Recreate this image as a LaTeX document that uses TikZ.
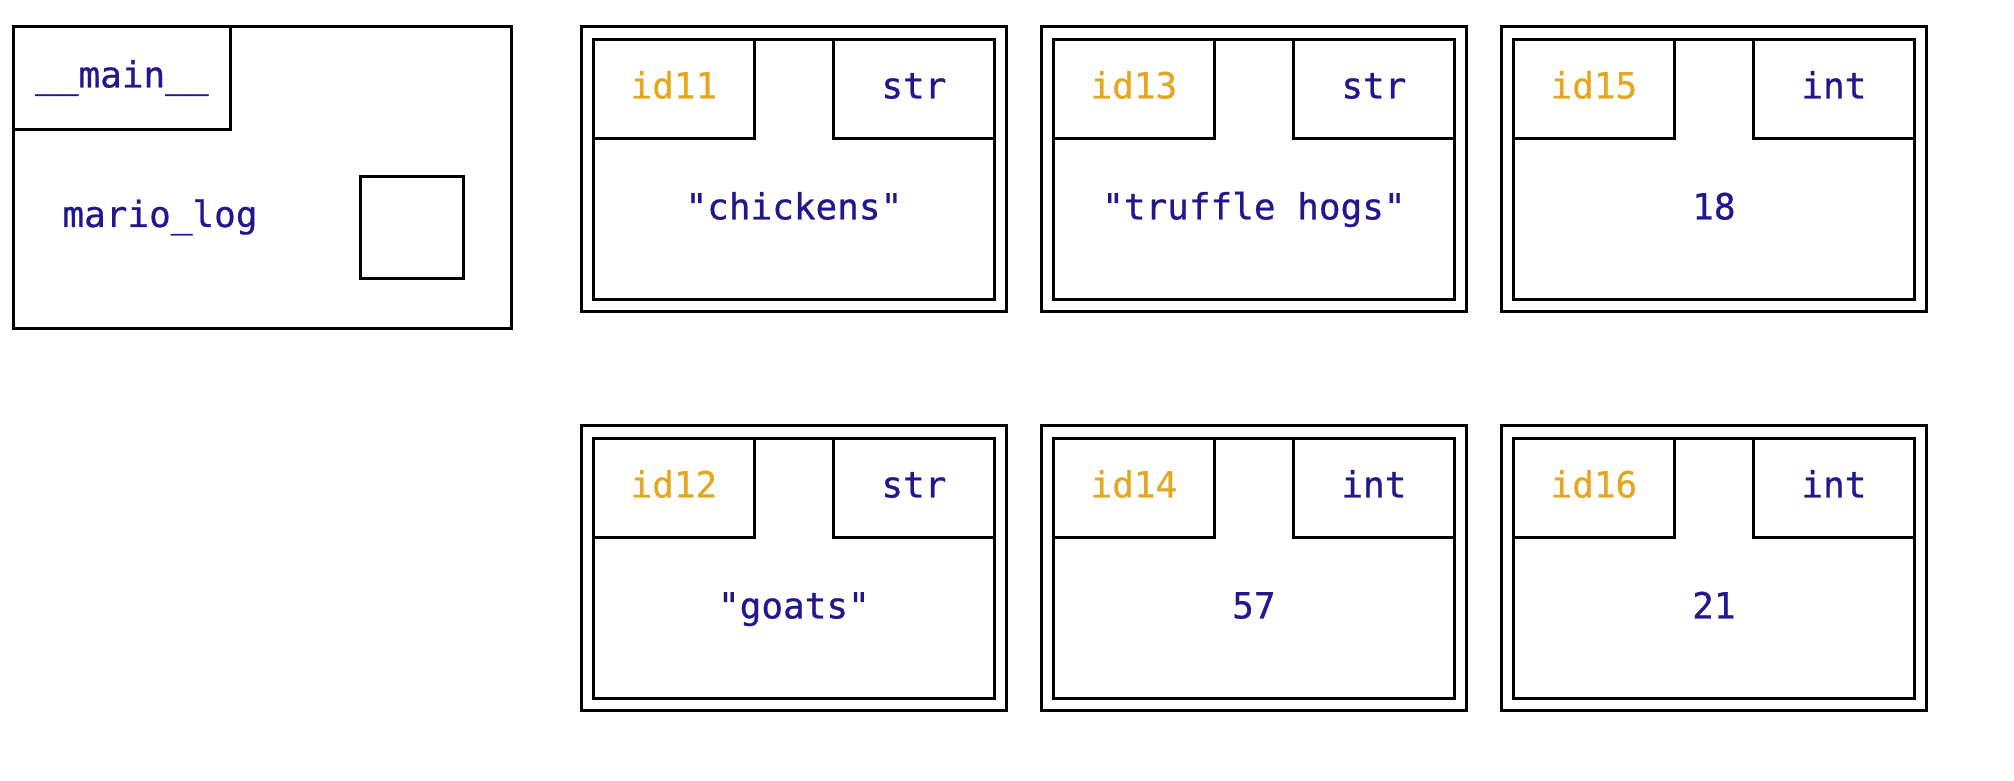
\documentclass[tikz,border=0pt]{standalone}
\usepackage{fontspec}
\newfontfamily\codefont{DejaVu Sans Mono}[FakeBold=0.7]
\usetikzlibrary{positioning}
\definecolor{namecol}{RGB}{32,24,140}
\definecolor{idcol}{RGB}{228,168,32}

\begin{document}
\begin{tikzpicture}[x=0.5pt, y=-0.5pt,
	every node/.style={font=\codefont\fontsize{18}{20}\selectfont, text=namecol,
		inner sep=0pt, text height=13pt, text depth=3.5pt},
	frame/.style={draw, line width=1.4pt, anchor=north west},
	objbox/.style={frame, minimum width=212.5pt, minimum height=142.5pt},
	innerbox/.style={draw, line width=1.4pt, minimum width=200.5pt, minimum height=130pt},
	tagbox/.style={draw, line width=1.4pt, minimum width=80.5pt, minimum height=49.5pt},
	idbox/.style={tagbox, anchor=north west, text=idcol},
	typebox/.style={tagbox, anchor=north east}]
	\useasboundingbox (0,0) rectangle (2014,781);
	% __main__ frame
	\node[frame, minimum width=249pt, minimum height=151pt] (main) at (12,25) {};
	\node[frame, minimum width=108.5pt, minimum height=51.5pt] (mainlbl) at (main.north west) {\_\_main\_\_};
	\node (var) at (160,217.5) {mario\_log};
	\node[frame, minimum width=51.5pt, minimum height=51pt] (ref) at (359,175) {};
	% objects, top row
	\node[objbox] (o11) at (580,25) {};
	\node[innerbox, below right=6.5pt and 6pt of o11.north west] (in11) {};
	\node[idbox] (id11) at (in11.north west) {id11};
	\node[typebox] (t11) at (in11.north east) {str};
	\node (v11) at ([yshift=-20.25pt]in11.center) {"chickens"};
	\node[objbox] (o13) at (1040,25) {};
	\node[innerbox, below right=6.5pt and 6pt of o13.north west] (in13) {};
	\node[idbox] (id13) at (in13.north west) {id13};
	\node[typebox] (t13) at (in13.north east) {str};
	\node (v13) at ([yshift=-20.25pt]in13.center) {"truffle hogs"};
	\node[objbox] (o15) at (1500,25) {};
	\node[innerbox, below right=6.5pt and 6pt of o15.north west] (in15) {};
	\node[idbox] (id15) at (in15.north west) {id15};
	\node[typebox] (t15) at (in15.north east) {int};
	\node (v15) at ([yshift=-20.25pt]in15.center) {18};
	% objects, bottom row
	\node[objbox] (o12) at (580,424) {};
	\node[innerbox, below right=6.5pt and 6pt of o12.north west] (in12) {};
	\node[idbox] (id12) at (in12.north west) {id12};
	\node[typebox] (t12) at (in12.north east) {str};
	\node (v12) at ([yshift=-20.25pt]in12.center) {"goats"};
	\node[objbox] (o14) at (1040,424) {};
	\node[innerbox, below right=6.5pt and 6pt of o14.north west] (in14) {};
	\node[idbox] (id14) at (in14.north west) {id14};
	\node[typebox] (t14) at (in14.north east) {int};
	\node (v14) at ([yshift=-20.25pt]in14.center) {57};
	\node[objbox] (o16) at (1500,424) {};
	\node[innerbox, below right=6.5pt and 6pt of o16.north west] (in16) {};
	\node[idbox] (id16) at (in16.north west) {id16};
	\node[typebox] (t16) at (in16.north east) {int};
	\node (v16) at ([yshift=-20.25pt]in16.center) {21};
\end{tikzpicture}
\end{document}
